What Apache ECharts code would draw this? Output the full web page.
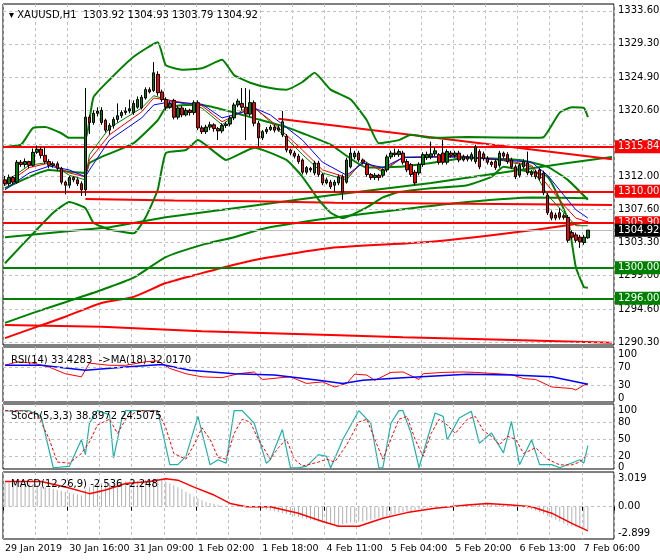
<!DOCTYPE html>
<html><head><meta charset="utf-8">
<script src="https://cdn.jsdelivr.net/npm/echarts@6/dist/echarts.min.js"></script>
<style>html,body{margin:0;padding:0;background:#fff}#c{width:660px;height:560px}</style>
</head><body><div id="c"></div>
<script>
// ---------- DATA ----------
// candles: [open, close, low, high]
const candles = [
[1311.5,1311.0,1310.7,1312.0],[1311.0,1311.8,1310.7,1312.2],[1311.8,1311.2,1310.9,1312.0],[1311.2,1313.8,1311.0,1314.1],
[1313.8,1313.5,1313.2,1314.1],[1313.5,1313.9,1313.1,1314.3],[1313.9,1313.4,1313.0,1314.0],[1313.4,1315.1,1313.2,1315.6],
[1315.1,1315.5,1314.9,1316.0],[1315.5,1314.7,1314.3,1315.8],[1314.7,1313.9,1313.6,1315.8],[1313.9,1313.4,1313.0,1314.2],
[1313.4,1313.6,1313.1,1313.9],[1313.6,1313.0,1312.7,1313.9],[1313.0,1311.2,1310.9,1313.2],[1311.2,1310.8,1309.6,1311.4],
[1310.8,1311.8,1310.4,1312.0],[1311.8,1311.5,1311.2,1312.0],[1311.5,1311.0,1310.7,1311.8],[1311.0,1310.2,1309.4,1311.3],
[1310.2,1319.7,1309.4,1323.5],[1319.7,1319.0,1317.5,1320.0],[1319.0,1320.2,1318.7,1320.6],[1320.2,1320.5,1319.8,1321.0],
[1319.0,1320.6,1318.7,1321.0],[1319.3,1318.0,1317.7,1319.5],[1318.0,1318.6,1317.4,1318.9],[1318.6,1319.4,1318.2,1319.7],
[1319.4,1319.9,1319.0,1321.5],[1319.9,1320.3,1319.6,1320.6],[1320.3,1320.5,1320.0,1321.0],[1320.5,1320.8,1320.2,1322.0],
[1320.3,1321.5,1320.0,1321.9],[1321.0,1322.0,1320.8,1322.4],[1320.9,1322.3,1320.7,1322.6],[1322.2,1323.3,1322.0,1323.6],
[1323.3,1323.0,1322.8,1323.6],[1323.2,1325.5,1323.0,1326.9],[1325.3,1322.9,1322.5,1325.7],[1323.0,1322.0,1321.7,1323.3],
[1322.0,1321.0,1320.6,1322.3],[1321.0,1321.5,1320.8,1321.8],[1321.9,1319.7,1319.4,1322.1],[1319.7,1320.9,1319.4,1321.2],
[1320.9,1320.0,1319.7,1321.2],[1320.0,1320.6,1319.8,1320.9],[1320.6,1320.3,1319.9,1320.8],[1320.3,1321.6,1320.0,1321.9],
[1321.6,1318.3,1318.0,1321.9],[1318.3,1317.8,1317.5,1318.6],[1317.8,1318.4,1317.5,1318.7],[1318.4,1318.7,1318.0,1319.1],
[1318.7,1318.2,1317.8,1318.9],[1318.2,1317.9,1316.7,1318.4],[1317.9,1318.6,1317.6,1318.9],[1318.6,1318.8,1318.3,1319.1],
[1318.8,1319.6,1318.5,1319.9],[1319.6,1321.3,1319.3,1321.6],[1321.3,1321.8,1321.0,1322.1],[1321.5,1321.0,1320.6,1323.5],
[1321.0,1320.1,1316.7,1323.5],[1320.1,1321.6,1319.8,1323.3],[1321.6,1318.9,1318.5,1321.9],[1318.9,1317.0,1315.8,1319.2],
[1317.0,1317.8,1316.7,1318.0],[1317.8,1318.1,1317.5,1318.4],[1318.1,1318.4,1317.9,1318.7],[1318.4,1318.0,1317.7,1318.7],
[1318.0,1318.3,1317.8,1318.6],[1317.4,1319.1,1317.1,1320.5],[1317.2,1315.4,1315.1,1317.5],[1315.4,1315.0,1314.7,1315.6],
[1315.0,1314.6,1314.3,1315.3],[1314.6,1313.9,1313.6,1314.9],[1314.1,1312.5,1312.2,1314.3],[1312.5,1313.1,1312.2,1313.3],
[1313.0,1312.8,1312.5,1313.2],[1312.4,1313.7,1312.1,1314.0],[1313.7,1312.2,1311.9,1314.0],[1312.2,1311.1,1310.8,1312.4],
[1311.1,1311.5,1310.9,1311.8],[1311.2,1310.6,1310.3,1311.5],[1310.8,1311.2,1309.9,1311.5],[1311.1,1311.9,1310.8,1312.2],
[1311.9,1309.9,1308.9,1312.2],[1311.2,1314.1,1311.0,1314.4],[1313.2,1315.0,1313.0,1315.8],[1314.5,1315.0,1314.2,1315.3],
[1315.0,1314.1,1313.8,1315.3],[1314.1,1313.8,1313.5,1314.3],[1313.5,1312.2,1311.9,1313.8],[1312.2,1311.8,1311.5,1312.4],
[1311.8,1312.1,1311.5,1312.4],[1312.1,1311.8,1311.4,1312.3],[1312.1,1312.8,1311.8,1313.0],[1312.8,1314.5,1312.5,1314.8],
[1314.5,1315.0,1314.2,1315.3],[1315.0,1314.8,1314.5,1315.6],[1314.8,1315.2,1314.5,1315.5],[1315.0,1313.8,1313.5,1315.3],
[1313.9,1312.8,1312.5,1314.2],[1313.5,1312.2,1311.9,1313.7],[1312.5,1311.1,1310.8,1312.8],[1312.4,1313.5,1312.1,1313.8],
[1313.5,1314.8,1313.2,1315.1],[1314.4,1314.8,1314.1,1315.2],[1314.5,1314.9,1314.2,1316.5],[1314.9,1315.3,1314.6,1315.8],
[1314.8,1313.8,1313.5,1315.0],[1315.0,1313.8,1313.5,1316.7],[1313.8,1315.2,1313.5,1315.5],[1315.0,1314.7,1314.4,1315.3],
[1314.7,1315.0,1314.4,1315.3],[1315.0,1314.1,1313.8,1315.3],[1314.1,1314.5,1313.9,1314.8],[1314.5,1314.2,1313.9,1314.8],
[1314.2,1314.8,1313.9,1315.1],[1313.9,1315.8,1313.6,1316.1],[1315.2,1313.2,1312.9,1315.5],[1314.9,1314.3,1314.0,1315.2],
[1314.3,1313.8,1313.5,1314.6],[1313.8,1313.5,1313.2,1314.0],[1313.9,1313.1,1312.8,1314.2],[1313.4,1315.0,1313.1,1315.3],
[1315.0,1314.6,1314.3,1315.2],[1314.8,1313.9,1313.6,1315.1],[1314.1,1313.2,1312.9,1314.4],[1313.2,1311.9,1311.6,1313.5],
[1312.1,1313.4,1311.8,1313.7],[1313.2,1313.9,1312.9,1314.2],[1313.7,1312.4,1312.1,1315.2],[1312.5,1312.2,1311.9,1312.8],
[1312.5,1311.9,1311.6,1312.8],[1312.8,1311.7,1311.4,1313.0],[1312.4,1309.8,1309.5,1312.7],[1309.5,1307.2,1306.9,1309.8],
[1307.2,1306.5,1306.2,1307.5],[1306.9,1306.5,1306.2,1307.2],[1307.2,1306.6,1306.3,1307.8],[1306.8,1306.6,1306.3,1307.1],
[1306.6,1303.6,1303.3,1306.9],[1304.6,1304.0,1303.7,1304.9],[1304.3,1303.6,1303.3,1304.6],[1304.0,1303.4,1302.6,1304.3],
[1303.3,1304.0,1303.0,1304.3],[1303.92,1304.92,1303.79,1304.93]
];
const emptySlots = 6;
const bbUpper = [[0,1315.8],[4,1316.1],[7,1318.3],[10,1318.4],[14,1317.6],[16,1317.0],[20,1317.0],[22,1322.3],[26,1324.6],[32,1327.6],[38,1329.5],[40,1326.5],[44,1325.9],[49,1326.1],[54,1327.2],[57,1325.2],[61,1324.2],[66,1323.5],[70,1323.3],[74,1324.3],[77,1325.5],[81,1323.3],[86,1322.0],[90,1319.3],[93,1316.3],[98,1316.7],[101,1317.4],[106,1317.0],[115,1317.1],[131,1317.0],[134,1317.1],[138,1320.3],[141,1321.0],[144,1320.9],[145,1319.7]];
const bbMiddle = [[0,1310.4],[11,1312.8],[20,1312.4],[21,1313.7],[24,1314.5],[32,1316.3],[38,1319.3],[40,1320.9],[45,1321.3],[49,1321.3],[57,1320.3],[61,1319.7],[70,1318.4],[74,1317.6],[81,1316.1],[90,1313.1],[98,1313.2],[106,1313.7],[115,1314.4],[128,1314.1],[135,1313.2],[140,1311.5],[145,1308.9]];
const bbLower = [[0,1300.6],[7,1304.5],[12,1307.2],[16,1308.6],[20,1307.8],[22,1305.9],[26,1305.0],[32,1304.5],[35,1306.6],[38,1310.2],[40,1315.0],[45,1315.4],[48,1316.7],[52,1315.2],[55,1314.1],[62,1315.7],[70,1314.1],[74,1311.9],[78,1308.9],[81,1307.2],[84,1306.5],[90,1307.9],[94,1309.2],[98,1309.9],[106,1310.4],[115,1310.8],[121,1311.9],[124,1313.2],[128,1312.8],[135,1311.9],[140,1306.3],[142,1300.1],[144,1297.5],[145,1297.4]];
const greenSlowA = [[0,1292.8],[7,1294.1],[15,1295.5],[24,1297.1],[32,1298.7],[40,1301.4],[49,1303.0],[57,1304.0],[65,1305.2],[81,1306.5],[98,1307.6],[115,1308.6],[131,1309.2],[145,1309.1]];
const greenSlowB = [[0,1304.0],[26,1305.3],[40,1306.6],[57,1307.8],[81,1309.5],[106,1311.1],[123,1312.4],[140,1313.7],[151,1314.5]];
const redSlowRise = [[0,1290.8],[7,1292.1],[15,1293.6],[24,1295.4],[32,1296.2],[40,1298.0],[49,1299.3],[57,1300.4],[65,1301.3],[81,1302.6],[106,1303.4],[131,1304.9],[145,1306.0]];
const redSlowFall = [[0,1292.5],[24,1292.3],[49,1291.7],[81,1291.2],[99,1290.9],[124,1290.6],[151,1290.2]];
const redMid = [[20,1309.0],[42,1308.8],[62,1308.7],[82,1308.5],[108,1308.4],[130,1308.3],[151,1308.2]];
const redTrend = [[68,1319.5],[151,1314.2]];
const maRed = [[0,1310.8],[6,1313.1],[11,1313.7],[16,1312.4],[20,1311.9],[21,1314.1],[26,1317.4],[34,1320.4],[37,1322.2],[41,1321.9],[49,1321.2],[54,1319.1],[59,1320.4],[62,1320.9],[66,1319.3],[74,1315.4],[79,1312.8],[85,1311.8],[89,1313.8],[94,1312.8],[99,1314.4],[106,1314.5],[114,1314.5],[124,1314.1],[131,1313.4],[135,1310.8],[139,1308.2],[142,1306.5],[145,1306.0]];
const maBlue = [[0,1310.2],[6,1312.4],[11,1313.3],[16,1312.8],[20,1311.9],[21,1312.8],[26,1316.7],[34,1319.6],[37,1321.3],[41,1321.7],[49,1321.4],[54,1319.6],[59,1320.3],[62,1320.9],[66,1320.0],[74,1316.7],[79,1313.8],[85,1312.1],[89,1313.7],[94,1313.1],[99,1314.4],[106,1314.5],[114,1314.5],[124,1314.1],[131,1313.8],[135,1312.1],[139,1309.5],[142,1307.6],[145,1306.5]];
const maGreen = [[0,1311.2],[6,1313.4],[11,1313.8],[16,1312.1],[20,1311.5],[21,1314.8],[26,1318.3],[34,1320.9],[37,1322.5],[41,1321.9],[49,1320.9],[54,1318.7],[59,1320.6],[62,1321.0],[66,1319.1],[74,1314.8],[79,1312.4],[85,1311.5],[89,1314.1],[94,1312.5],[99,1314.5],[106,1314.5],[114,1314.6],[124,1314.0],[131,1313.2],[135,1309.5],[139,1307.2],[142,1305.5],[145,1305.5]];
const priceTicks = [1333.60,1329.30,1324.90,1320.60,1316.20,1312.00,1307.60,1303.30,1299.00,1294.60,1290.30];
const redLevels = [1315.84,1310.00,1305.90];
const greenLevels = [1300.00,1296.00];
const lastPrice = 1304.92;
const rsi = [[0,75],[3,83],[7,80],[11,71],[15,56],[19,49],[21,80],[26,75],[30,75],[35,83],[38,85],[41,68],[45,56],[49,49],[54,47],[58,56],[62,60],[64,43],[71,49],[75,34],[79,37.5],[82,26],[85,34],[87,55],[90,53],[92,41],[96,59],[99,60],[103,43],[104,56],[109,59],[114,60],[117,59],[126,54],[129,45],[132,43],[136,26],[141,22.5],[142,19],[144,30],[145,33.4]];
const rsiMA = [[0,75],[9,75],[20,64],[30,71],[39,77],[46,64],[57,56],[67,53],[78,41],[84,34],[89,41],[99,47],[115,55],[126,53],[136,49],[145,32]];
const rsiTicks = [100,70,30,0];
const stoch = [[0,100],[2,98.8],[4,100],[6,100],[9,90],[12,0],[16,2.5],[19,49],[20,23],[21,78],[23,100],[26,93],[27,17],[29,84],[30,100],[34,100],[37,100],[38,100],[41,5.4],[43,5.4],[45,20],[48,90],[51,5.4],[53,14],[55,8],[57,100],[59,100],[62,78],[65,8],[66,14],[69,67],[71,0],[73,0],[75,2.5],[78,23],[80,20],[81,0],[83,32],[84,49],[88,100],[91,78],[93,0],[94,0],[96,78],[98,100],[99,100],[101,61],[103,0],[105,49],[107,96],[109,90],[110,49],[113,87],[116,99],[118,43],[121,61],[124,26],[126,81],[128,5.4],[131,49],[133,5.4],[136,5.4],[138,0],[143,14],[144,8],[145,38.9]];
const stochSignal = [[0,100],[4,100],[8,95],[11,50],[13,10],[16,8],[19,25],[21,45],[23,75],[26,85],[28,60],[30,85],[33,100],[38,100],[40,70],[42,25],[45,15],[47,40],[49,70],[51,50],[53,18],[55,15],[57,60],[59,85],[61,80],[63,50],[66,15],[68,35],[70,50],[72,15],[74,3],[78,10],[80,15],[82,10],[85,40],[88,80],[90,85],[92,50],[94,15],[96,50],[98,85],[100,90],[102,50],[104,20],[106,60],[108,85],[110,75],[112,60],[115,85],[117,90],[119,65],[121,55],[123,40],[125,55],[127,50],[129,25],[132,35],[135,15],[138,5],[141,5],[143,10],[145,24.5]];
const stochTicks = [100,80,50,20,0];
const macdHist = [2.6,2.6,2.6,2.6,2.6,2.5,2.5,2.4,2.3,2.2,2.1,2.0,1.9,1.8,1.7,1.6,1.5,1.4,1.3,1.2,
1.8,2.1,2.3,2.4,2.5,2.5,2.5,2.6,2.6,2.7,2.7,2.7,2.8,2.8,2.8,2.9,2.9,3.0,3.0,2.9,
2.7,2.5,2.3,2.1,1.9,1.6,1.4,1.1,0.9,0.7,0.5,0.4,0.3,0.2,0.1,0.1,0.0,0.0,0.1,0.1,
0.0,-0.1,-0.1,-0.2,-0.2,-0.3,-0.4,-0.5,-0.6,-0.7,-0.8,-0.9,-1.0,-1.1,-1.2,-1.3,-1.4,-1.5,-1.6,-1.7,
-1.8,-1.9,-1.9,-2.0,-1.9,-1.8,-1.7,-1.7,-1.6,-1.6,-1.5,-1.4,-1.3,-1.2,-1.1,-1.0,-0.9,-0.8,-0.7,-0.6,
-0.5,-0.5,-0.4,-0.3,-0.2,-0.2,-0.1,-0.1,0.0,0.0,0.1,0.1,0.2,0.2,0.2,0.3,0.3,0.3,0.3,0.3,
0.3,0.3,0.2,0.2,0.2,0.1,0.1,0.0,0.0,-0.1,-0.2,-0.3,-0.4,-0.6,-0.8,-1.0,-1.2,-1.4,-1.6,-1.8,
-2.0,-2.1,-2.2,-2.3,-2.4,-2.5];
const macdSignal = [[0,2.7],[9,2.7],[16,2.0],[21,1.4],[25,1.8],[30,2.5],[36,2.7],[40,3.0],[43,2.85],[47,2.1],[52,1.25],[56,0.35],[60,0],[66,0],[73,-0.7],[79,-1.6],[83,-2.1],[88,-2.1],[94,-1.25],[100,-0.64],[107,-0.18],[115,0.18],[120,0.35],[126,0.18],[131,0],[136,-0.7],[141,-1.8],[145,-2.6]];
const macdTicks = [3.019,0.00,-2.899];
const dateLabels = ['29 Jan 2019','30 Jan 16:00','31 Jan 09:00','1 Feb 02:00','1 Feb 18:00','4 Feb 11:00','5 Feb 04:00','5 Feb 20:00','6 Feb 13:00','7 Feb 06:00'];
const dateIndex = [0,16,32,48,64,80,96,112,128,144];

// ---------- CHART ----------
const N = candles.length + emptySlots;
const cats = Array.from({length:N},(_, i)=>String(i));
const F = 'DejaVu Sans';
const GRIDC = '#c0c0c0';
const grids = [
  {left:3,right:46,top:4,height:341},
  {left:3,right:46,top:347,height:55},
  {left:3,right:46,top:404,height:65},
  {left:3,right:46,top:472,height:67}
].map(g=>Object.assign(g,{show:true,borderColor:'#000',borderWidth:1,backgroundColor:'#fff'}));
const xAxes = grids.map((g,k)=>({
  type:'category',gridIndex:k,data:cats,boundaryGap:true,
  axisLine:{show:false},
  axisTick:k===3?{show:true,interval:(i)=>dateIndex.includes(i),length:4,lineStyle:{color:'#000'}}:{show:false},
  axisLabel:k===3?{show:true,interval:(i)=>dateIndex.includes(i),formatter:(v,i)=>dateLabels[dateIndex.indexOf(i)]||'',align:'left',margin:5,fontFamily:F,fontSize:9.5,color:'#000'}:{show:false},
  splitLine:{show:true,interval:7,lineStyle:{color:GRIDC,type:[3,3],width:1}}
}));
const yAxes = [
  {gridIndex:0,min:1289.9,max:1334.5},
  {gridIndex:1,min:-8,max:116.5},
  {gridIndex:2,min:-2.2,max:111.7},
  {gridIndex:3,min:-3.48,max:3.73}
].map(a=>Object.assign(a,{type:'value',position:'right',scale:true,axisLine:{show:false},axisTick:{show:false},axisLabel:{show:false},splitLine:{show:false}}));

function gridMarks(vals, fmt, dashed){
  return vals.map(v=>({yAxis:v,lineStyle:{color:dashed?GRIDC:'transparent',type:[3,3],width:1},
    label:{show:true,position:'end',formatter:fmt(v),color:'#000',fontFamily:F,fontSize:10,distance:4}}));
}
function levelMarks(vals,color){
  return vals.map(v=>({yAxis:v,lineStyle:{color:color,type:'solid',width:2},
    label:{show:true,position:'end',formatter:v.toFixed(2),color:'#fff',backgroundColor:color,padding:[2,3,1,3],fontFamily:F,fontSize:10,distance:1}}));
}
function ln(data,color,width,k,extra){
  return Object.assign({type:'line',data:data,xAxisIndex:k||0,yAxisIndex:k||0,showSymbol:false,symbol:'none',silent:true,
    lineStyle:{color:color,width:width},animation:false},extra||{});
}
const green='#008000', red='#ff0000';
const series = [
  {type:'line',data:[],xAxisIndex:0,yAxisIndex:0,silent:true,
    markLine:{symbol:'none',silent:true,animation:false,data:gridMarks(priceTicks,v=>v.toFixed(2),true)}},
  ln(greenSlowA,green,2,0,{smooth:0.2}), ln(greenSlowB,green,2),
  ln(redSlowRise,red,2,0,{smooth:0.2}), ln(redSlowFall,red,2), ln(redMid,red,2),
  ln(redTrend,red,2),
  ln(bbUpper,green,2,0,{smooth:0.15}), ln(bbMiddle,green,2,0,{smooth:0.15}), ln(bbLower,green,2,0,{smooth:0.15}),
  {type:'line',data:[],xAxisIndex:0,yAxisIndex:0,silent:true,z:5,
    markLine:{symbol:'none',silent:true,animation:false,data:
      levelMarks(redLevels,red).concat(levelMarks(greenLevels,green)).concat([{yAxis:lastPrice,lineStyle:{color:'#c0c0c0',type:'solid',width:1},
      label:{show:true,position:'end',formatter:lastPrice.toFixed(2),color:'#fff',backgroundColor:'#000',padding:[2,3,1,3],fontFamily:F,fontSize:10,distance:1}}])}},
  ln(maGreen,'#008000',1,0,{z:6}), ln(maRed,red,1,0,{z:6}), ln(maBlue,'#0000ff',1,0,{z:6}),
  {type:'candlestick',data:candles,xAxisIndex:0,yAxisIndex:0,barWidth:3,z:7,silent:true,animation:false,
    itemStyle:{color:'#008000',color0:'#ff0000',borderColor:'#000',borderColor0:'#000',borderWidth:1}},
  {type:'line',data:[],xAxisIndex:1,yAxisIndex:1,silent:true,
    markLine:{symbol:'none',silent:true,animation:false,data:gridMarks(rsiTicks,v=>String(v),false).map(m=>{if(m.yAxis===70||m.yAxis===30){m.lineStyle.color=GRIDC;}return m;})}},
  ln(rsi,red,1,1), ln(rsiMA,'#0000ff',1.5,1),
  {type:'line',data:[],xAxisIndex:2,yAxisIndex:2,silent:true,
    markLine:{symbol:'none',silent:true,animation:false,data:gridMarks(stochTicks,v=>String(v),false).map(m=>{if(m.yAxis===80||m.yAxis===50||m.yAxis===20){m.lineStyle.color=GRIDC;}return m;})}},
  ln(stoch,'#20b2aa',1.2,2), ln(stochSignal,red,1,2,{lineStyle:{color:red,width:1,type:[3,2]}}),
  {type:'line',data:[],xAxisIndex:3,yAxisIndex:3,silent:true,
    markLine:{symbol:'none',silent:true,animation:false,data:gridMarks(macdTicks,v=>v===0?'0.00':String(v),false).map(m=>{if(m.yAxis===0){m.lineStyle.color=GRIDC;}return m;})}},
  {type:'bar',data:macdHist,xAxisIndex:3,yAxisIndex:3,barWidth:1,silent:true,animation:false,itemStyle:{color:'#b0b0b0'}},
  ln(macdSignal,red,1.5,3)
];
const tStyle={fontFamily:F,fontSize:10,fontWeight:'normal',color:'#000'};
const chart = echarts.init(document.getElementById('c'),null,{renderer:'canvas'});
chart.setOption({
  animation:false,backgroundColor:'#fff',
  title:[
    {text:'▾ XAUUSD,H1  1303.92 1304.93 1303.79 1304.92',left:4,top:5,textStyle:tStyle},
    {text:'RSI(14) 33.4283  ->MA(18) 32.0170',left:6,top:350,textStyle:tStyle},
    {text:'Stoch(5,3,3) 38.8972 24.5075',left:6,top:406,textStyle:tStyle},
    {text:'MACD(12,26,9) -2.536 -2.248',left:6,top:474,textStyle:tStyle}
  ],
  grid:grids,xAxis:xAxes,yAxis:yAxes,series:series
});
</script></body></html>
